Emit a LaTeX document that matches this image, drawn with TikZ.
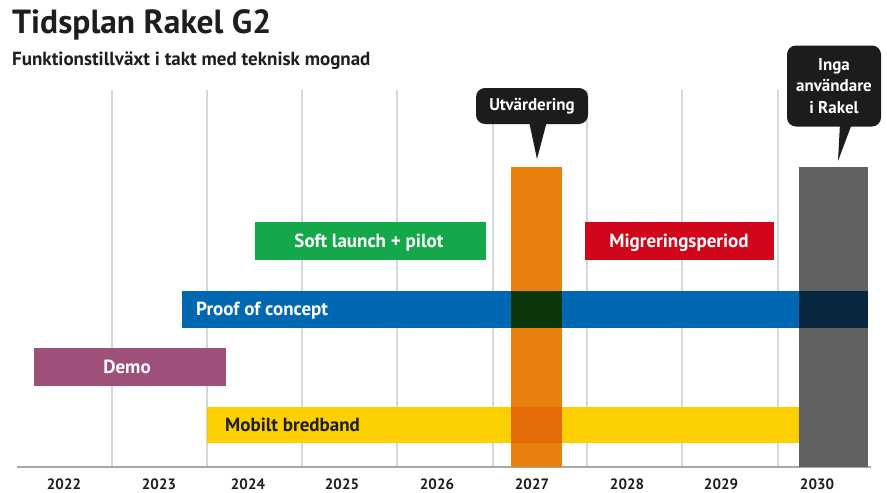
\documentclass[tikz,border=0pt]{standalone}
\usepackage{fontspec}
\setmainfont{PT Sans}
\usetikzlibrary{positioning}

\definecolor{gridgray}{HTML}{CFDADF}
\definecolor{axisgray}{HTML}{A8A8A8}
\definecolor{textdark}{HTML}{1E1E1E}
\definecolor{notebg}{HTML}{1C1C1C}
\definecolor{softgreen}{HTML}{14A84A}
\definecolor{migred}{HTML}{D0061A}
\definecolor{pocblue}{HTML}{0068B3}
\definecolor{demopurple}{HTML}{9E4F7A}
\definecolor{mbbyellow}{HTML}{FCD000}
\definecolor{evalorange}{HTML}{E8800E}
\definecolor{endgray}{HTML}{606060}
\definecolor{darkgreen}{HTML}{0A360A}
\definecolor{darkorange}{HTML}{E36A06}
\definecolor{darknavy}{HTML}{0A2742}

\tikzset{
  bar/.style={inner sep=0pt, anchor=north west},
  barlabel/.style={font=\bfseries\fontsize{19}{22}\selectfont, text=white, anchor=base, inner sep=0pt},
  yearlabel/.style={font=\bfseries\fontsize{15}{18}\selectfont, text=textdark, anchor=base, inner sep=0pt},
  note/.style={fill=notebg, rounded corners=9pt, text=white, align=center, inner sep=0pt,
    font=\bfseries\fontsize{17}{21.5}\selectfont},
}

\begin{document}
\begin{tikzpicture}[x=1pt, y=-1pt]

    \fill[white] (0, 0) rectangle (887, 493);
    \useasboundingbox (0, 0) rectangle (887, 493);

    % title
    \node[anchor=base west, inner sep=0pt, text=textdark, font=\bfseries\fontsize{33.5}{38}\selectfont]
      (title) at (12, 33) {Tidsplan Rakel G2};
    \node[anchor=base west, inner sep=0pt, text=textdark, font=\bfseries\fontsize{19}{22}\selectfont]
      (subtitle) at (12, 65) {Funktionstillväxt i takt med teknisk mognad};

    % grid
    \foreach \x in {112, 207, 302, 397, 493, 587, 682, 778}
      \draw[gridgray, line width=1.2pt] (\x, 90) -- (\x, 467);
    \draw[axisgray, line width=1.2pt] (17, 467) -- (871, 467);

    \foreach \yr/\x in {2022/64, 2023/159, 2024/248, 2025/342, 2026/437, 2027/532, 2028/627, 2029/721, 2030/817}
      \node[yearlabel] (y\yr) at (\x, 489) {\yr};

    % bars
    \node[bar, fill=softgreen, minimum width=231pt, minimum height=38pt] (soft) at (255, 222) {};
    \node[bar, fill=migred, minimum width=189pt, minimum height=38pt] (migr) at (585, 222) {};
    \node[bar, fill=pocblue, minimum width=686pt, minimum height=37pt] (poc) at (182, 291) {};
    \node[bar, fill=demopurple, minimum width=192pt, minimum height=38pt] (demo) at (34, 348) {};
    \node[bar, fill=mbbyellow, minimum width=592pt, minimum height=36pt] (mbb) at (207, 407) {};

    % columns
    \node[bar, fill=evalorange, minimum width=51pt, minimum height=300pt] (eval) at (511, 167) {};
    \node[bar, fill=endgray, minimum width=69pt, minimum height=300pt] (stop) at (799, 167) {};

    % overlaps
    \fill[darkgreen] (511, 291) rectangle (562, 328);
    \fill[darkorange] (511, 407) rectangle (562, 443);
    \fill[darknavy] (799, 291) rectangle (868, 328);

    % bar labels
    \node[barlabel] (softtext) at (369, 247) {Soft launch + pilot};
    \node[barlabel] (migrtext) at (679, 247) {Migreringsperiod};
    \node[barlabel, anchor=base west] (poctext) at (196, 315) {Proof of concept};
    \node[barlabel] (demotext) at (127, 373) {Demo};
    \node[barlabel, anchor=base west, text=textdark] (mbbtext) at (225, 431) {Mobilt bredband};

    % callouts
    \node[note, minimum width=112pt, minimum height=36pt] (evalnote) at (532, 106) {Utvärdering};
    \coordinate (evaltip) at (537, 159);
    \fill[notebg] ([xshift=-3pt, yshift=3pt]evalnote.south) -- ([xshift=15pt, yshift=3pt]evalnote.south) -- (evaltip) -- cycle;

    \node[note, minimum width=94pt, minimum height=81pt] (stopnote) at (834, 86) {Inga\\användare\\i Rakel};
    \coordinate (stoptip) at (838, 161);
    \fill[notebg] ([xshift=6pt, yshift=3pt]stopnote.south) -- ([xshift=18pt, yshift=3pt]stopnote.south) -- (stoptip) -- cycle;

\end{tikzpicture}
\end{document}
